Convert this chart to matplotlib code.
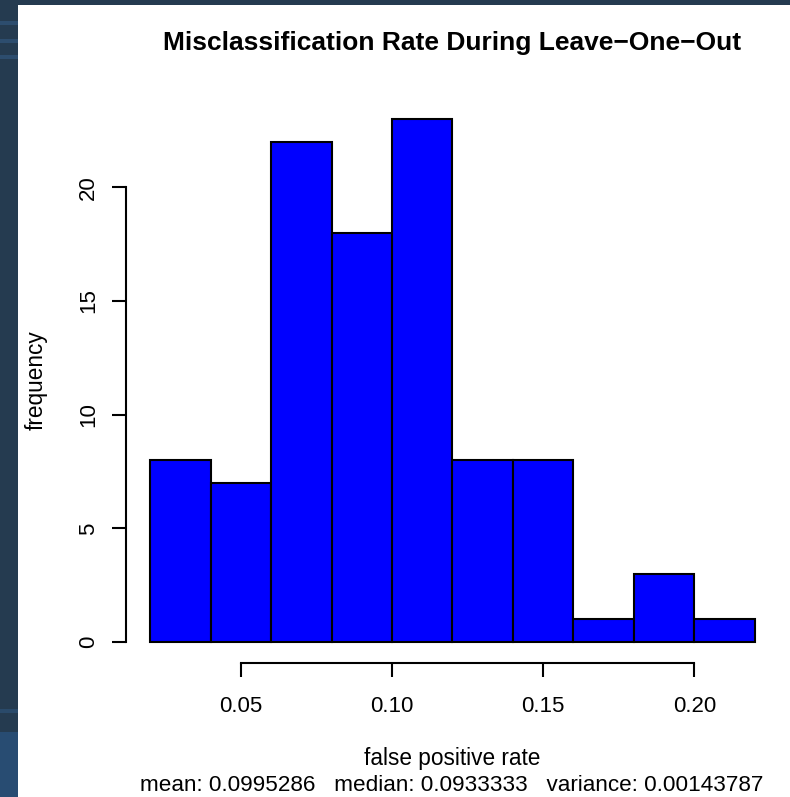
import matplotlib
matplotlib.use("Agg")
import matplotlib.pyplot as plt
from matplotlib.patches import Rectangle

# Data
bin_edges = [0.02, 0.04, 0.06, 0.08, 0.10, 0.12, 0.14, 0.16, 0.18, 0.20, 0.22]
counts = [8, 7, 22, 18, 23, 8, 8, 1, 3, 1]
x_ticks = [0.05, 0.10, 0.15, 0.20]
x_tick_labels = ["0.05", "0.10", "0.15", "0.20"]
y_ticks = [0, 5, 10, 15, 20]
title = "Misclassification Rate During Leave\u2212One\u2212Out"
xlabel = "false positive rate"
ylabel = "frequency"
subtitle = "mean: 0.0995286   median: 0.0933333   variance: 0.00143787"

W, H = 790, 797
DPI = 100
plt.rcParams['font.family'] = ['Liberation Sans', 'DejaVu Sans']

fig = plt.figure(figsize=(W / DPI, H / DPI), dpi=DPI)
fig.patch.set_facecolor('#253b50')

def px_rect(x0, y0, x1, y1, color, z=0):
    fig.patches.append(Rectangle((x0 / W, 1 - y1 / H), (x1 - x0) / W, (y1 - y0) / H,
                                 transform=fig.transFigure, facecolor=color,
                                 edgecolor='none', zorder=z))

# background decorations
for yy in (21, 39, 55):
    px_rect(0, yy, 18, yy + 4, '#2d4d6e')
px_rect(0, 709, 18, 713, '#2a4a6a')
px_rect(0, 732, 18, H, '#284c72')
# white canvas
px_rect(18, 5, W, H, 'white', z=1)

# axes placement (pixel box)
L, R, T, B = 126, 779, 98, 663
ax = fig.add_axes([L / W, 1 - B / H, (R - L) / W, (B - T) / H])
ax.set_zorder(2)
ax.patch.set_alpha(0)

widths = [bin_edges[i + 1] - bin_edges[i] for i in range(len(counts))]
ax.bar(bin_edges[:-1], counts, width=widths, align='edge', color='#0000ff',
       edgecolor='black', linewidth=1.5)

lo, hi = bin_edges[0], bin_edges[-1]
ax.set_xlim(lo - 0.04 * (hi - lo), hi + 0.04 * (hi - lo))
ymax = max(counts)
ax.set_ylim(-0.04 * ymax, ymax * 1.04)

for s in ('top', 'right'):
    ax.spines[s].set_visible(False)
ax.spines['left'].set_bounds(y_ticks[0], y_ticks[-1])
ax.spines['bottom'].set_bounds(x_ticks[0], x_ticks[-1])
for s in ('left', 'bottom'):
    ax.spines[s].set_linewidth(1.5)

ax.set_xticks(x_ticks)
ax.set_xticklabels(x_tick_labels)
ax.set_yticks(y_ticks)
ax.tick_params(axis='both', direction='out', length=10, width=1.5,
               labelsize=16)
ax.tick_params(axis='x', pad=13.5)
ax.tick_params(axis='y', pad=9.5)
for lab in ax.get_yticklabels():
    lab.set_rotation(90)
    lab.set_va('center')

fig.text(452 / W, 1 - 50 / H, title, ha='center', va='baseline',
         fontsize=19, fontweight='bold', zorder=3)
fig.text(452 / W, 1 - 765 / H, xlabel, ha='center', va='baseline', fontsize=16.3, zorder=3)
fig.text(452 / W, 1 - 791 / H, subtitle, ha='center', va='baseline', fontsize=16.2, zorder=3)
fig.text(36 / W, 1 - 380 / H, ylabel, ha='center', va='center', rotation=90,
         fontsize=16.3, zorder=3)

fig.savefig('out.png', dpi=DPI, facecolor=fig.get_facecolor())
